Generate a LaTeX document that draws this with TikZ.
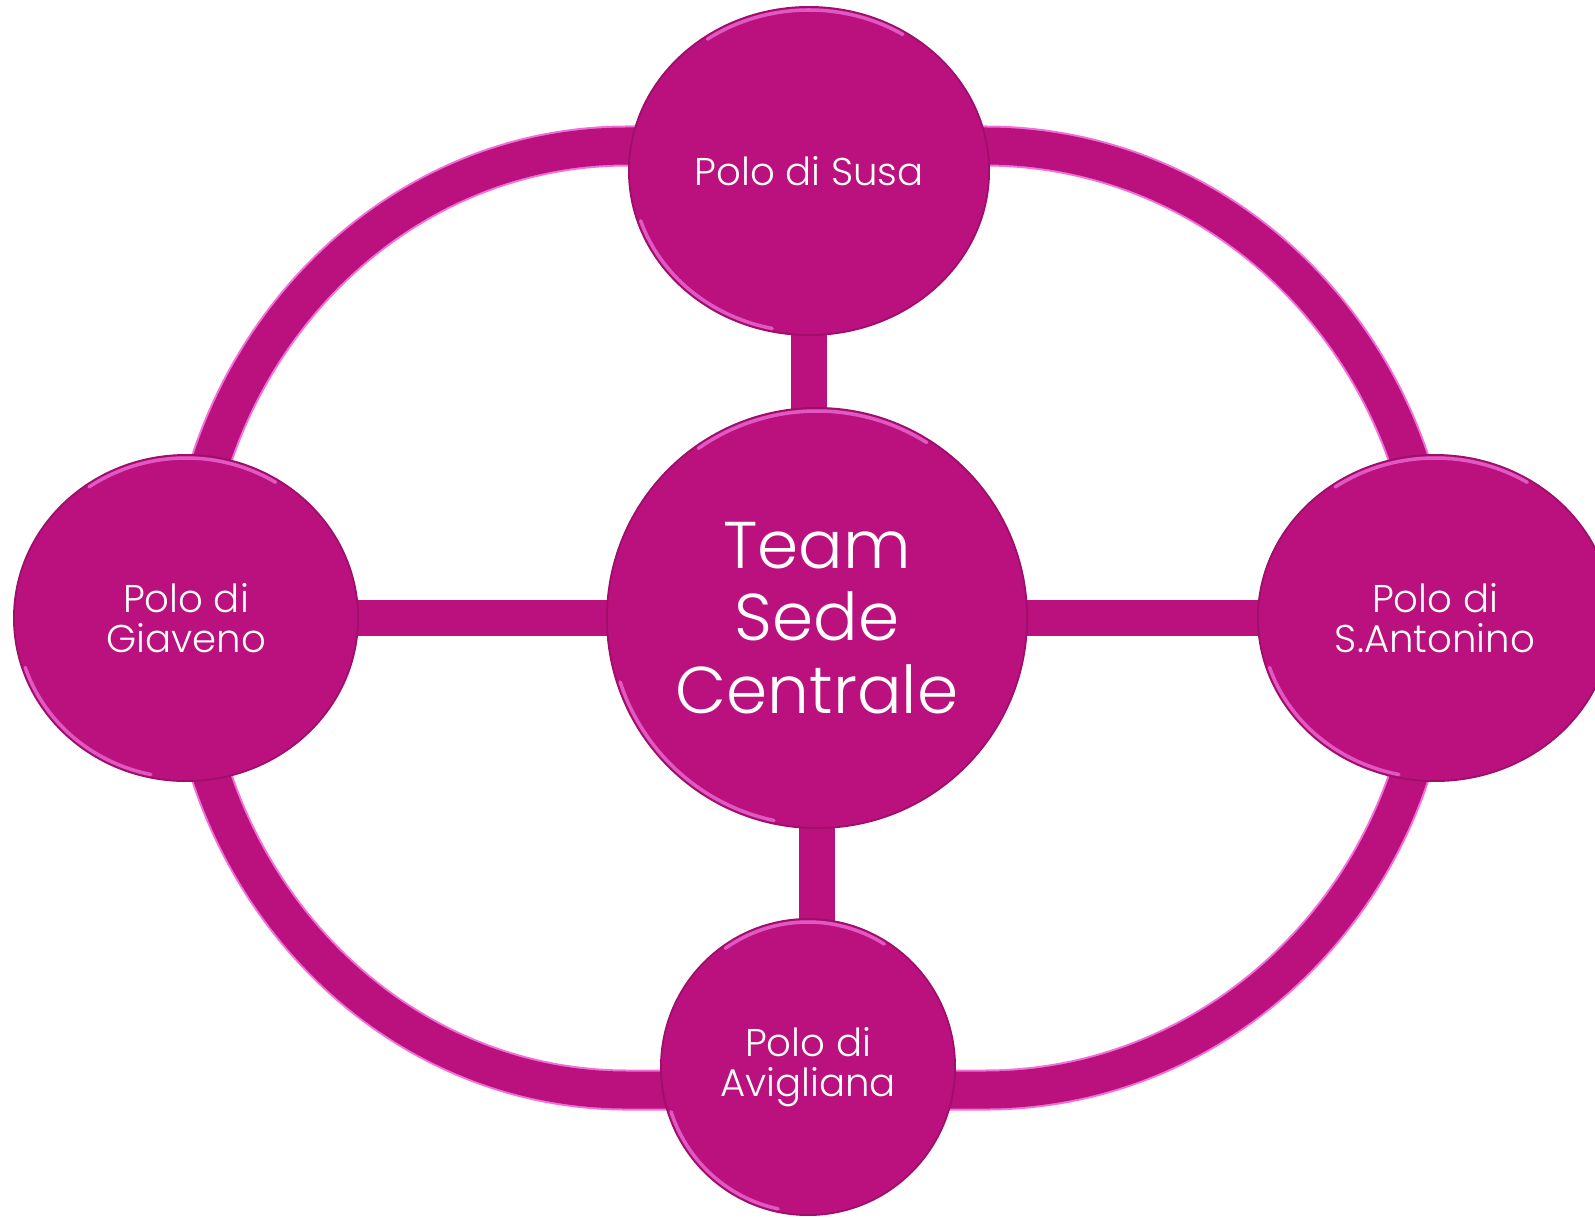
\documentclass[tikz,border=0pt]{standalone}
\usepackage{fontspec}
\setmainfont{Poppins Light}
\usetikzlibrary{shapes.geometric,calc}
\pgfdeclarelayer{bg}
\pgfsetlayers{bg,main}
\definecolor{mag}{RGB}{186,17,126}
\definecolor{maglight}{RGB}{240,112,218}
\begin{document}
\begin{tikzpicture}[x=0.01cm,y=0.01cm,
  polo/.style={ellipse, fill=mag, draw=mag!85!black, line width=0.5pt, inner sep=0pt,
    text=white, align=center, font=\fontsize{11}{11.4}\selectfont},
  hub/.style={polo, font=\fontsize{18.8}{20.6}\selectfont},
  bar/.style={draw=mag, line width=0.36cm},
  ringedge/.style={draw=maglight, line width=0.41cm},
  ringcore/.style={draw=mag, line width=0.37cm},
  hl/.style={draw=maglight, line width=1pt, line cap=round, opacity=0.75}]
\useasboundingbox (0,0) rectangle (1595,1217);
\clip (0,0) rectangle (1595,1217);
\node[hub, minimum width=4.2cm, minimum height=4.2cm] (c) at (817,599) {Team\\Sede\\Centrale};
\node[polo, minimum width=3.6cm, minimum height=3.28cm] (s) at (809,1046) {Polo di Susa};
\node[polo, minimum width=3.44cm, minimum height=3.26cm] (l) at (186,599) {Polo di\\Giaveno};
\node[polo, minimum width=3.54cm, minimum height=3.26cm] (r) at (1435,599) {Polo di\\S.Antonino};
\node[polo, minimum width=2.94cm, minimum height=2.96cm] (b) at (808,150) {Polo di\\Avigliana};
\begin{pgfonlayer}{bg}
  \foreach \st in {ringedge,ringcore}{
    \draw[\st] (l.center) arc[start angle=180, end angle=90, x radius=441, y radius=472]
      -- ++(358,0) arc[start angle=90, end angle=0, x radius=450, y radius=472]
      (r.center) arc[start angle=0, end angle=-90, x radius=450, y radius=472]
      -- ++(-358,0) arc[start angle=270, end angle=180, x radius=441, y radius=472];
  }
  \draw[bar] (l.center) -- (c.center);
  \draw[bar] (c.center) -- (r.center);
  \draw[bar] (s.center) -- (s.center |- c.center);
  \draw[bar] (c.center) -- (c.center |- b.center);
\end{pgfonlayer}
\foreach \n/\rx/\ry in {s/180/164, c/210/210, l/172/163, r/177/163, b/147/148}{
  \pgfmathsetmacro\a{\rx-3}
  \pgfmathsetmacro\bb{\ry-3}
  \draw[hl] ($(\n.center)+(125:\a*1 and \bb*1)$) arc[start angle=125, end angle=58, x radius=\a, y radius=\bb];
  \draw[hl] ($(\n.center)+(198:\a*1 and \bb*1)$) arc[start angle=198, end angle=258, x radius=\a, y radius=\bb];
}
\end{tikzpicture}
\end{document}
